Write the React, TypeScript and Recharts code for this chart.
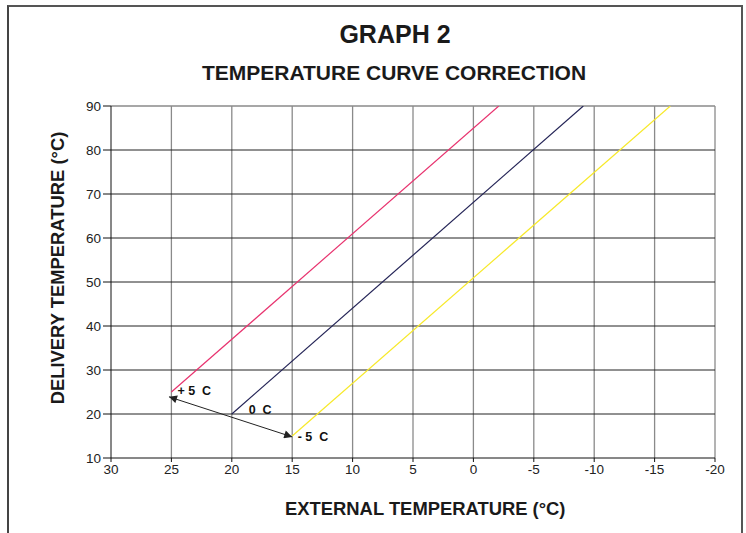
import React from 'react';
import { LineChart, Line, XAxis, YAxis, ReferenceLine, ReferenceDot } from 'recharts';

const xTicks = [30, 25, 20, 15, 10, 5, 0, -5, -10, -15, -20];
const yTicks = [10, 20, 30, 40, 50, 60, 70, 80, 90];

const plusFiveX = [25, -2.1];
const plusFiveY = [25, 90];
const zeroX = [20, -9.1];
const zeroY = [20, 90];
const minusFiveX = [15, -16.3];
const minusFiveY = [15, 90];

const arrowFrom = { x: 25.2, y: 23.9 };
const arrowTo = { x: 15.0, y: 14.8 };
const NB = '\u00a0';
const annotations = [
  { x: 24.5, y: 25.4, text: `+${NB}5${NB}${NB}C` },
  { x: 18.6, y: 20.9, text: `0${NB}${NB}C` },
  { x: 14.55, y: 14.8, text: `-${NB}5${NB}${NB}C` },
];

const toPoints = (xs: number[], ys: number[]) => xs.map((x, i) => ({ x, y: ys[i] }));

const series = [
  { name: '+5', data: toPoints(plusFiveX, plusFiveY), color: '#E8336F' },
  { name: '0', data: toPoints(zeroX, zeroY), color: '#232356' },
  { name: '-5', data: toPoints(minusFiveX, minusFiveY), color: '#F7E92A' },
];

const FONT = '"Liberation Sans", Arial, sans-serif';

export default function App() {
  return (
    <div style={{ position: 'absolute', left: 0, top: 0, width: 746, height: 533, background: '#fff', fontFamily: FONT, overflow: 'hidden' }}>
      <div style={{ position: 'absolute', left: 7, top: 5, width: 732, height: 540, borderTop: '2px solid #555', borderLeft: '2px solid #444', borderRight: '2px solid #555' }} />
      <div style={{ position: 'absolute', left: 0, width: 746, top: 20, textAlign: 'center', paddingLeft: 44, boxSizing: 'border-box', fontWeight: 'bold', fontSize: 25, color: '#1a1a1a' }}>GRAPH 2</div>
      <div style={{ position: 'absolute', left: 0, width: 746, top: 61, textAlign: 'center', paddingLeft: 42, boxSizing: 'border-box', fontWeight: 'bold', fontSize: 21, color: '#1a1a1a' }}>TEMPERATURE CURVE CORRECTION</div>
      <div style={{ position: 'absolute', left: 285, top: 498, fontWeight: 'bold', fontSize: 18.4, color: '#1a1a1a', whiteSpace: 'nowrap' }}>EXTERNAL TEMPERATURE (°C)</div>
      <div style={{ position: 'absolute', left: 58, top: 268, width: 0, height: 0 }}>
        <div style={{ position: 'absolute', transform: 'translate(-50%, -50%) rotate(-90deg)', fontWeight: 'bold', fontSize: 18.4, color: '#1a1a1a', whiteSpace: 'nowrap' }}>DELIVERY TEMPERATURE (°C)</div>
      </div>
      <div style={{ position: 'absolute', left: 0, top: 0 }}>
        <LineChart width={746} height={533} margin={{ top: 106, right: 31, bottom: 45, left: 71 }}>
          <defs>
            <marker id="arrowHead" viewBox="0 0 10 10" refX="10" refY="5" markerWidth="9" markerHeight="8" orient="auto-start-reverse" markerUnits="userSpaceOnUse">
              <path d="M0,0 L10,5 L0,10 z" fill="#222" />
            </marker>
          </defs>
          <XAxis
            type="number"
            dataKey="x"
            domain={[-20, 30]}
            reversed
            ticks={xTicks}
            interval={0}
            allowDataOverflow
            height={30}
            tickSize={4}
            stroke="#111"
            tick={{ fill: '#222', fontSize: 13.5, fontFamily: FONT }}
          />
          <YAxis
            type="number"
            dataKey="y"
            domain={[10, 90]}
            ticks={yTicks}
            interval={0}
            allowDataOverflow
            width={40}
            tickSize={8}
            stroke="#111"
            tick={{ fill: '#222', fontSize: 13.5, fontFamily: FONT }}
          />
          {xTicks.filter((t) => t !== 30).map((t) => (
            <ReferenceLine key={'vx' + t} x={t} stroke="#8a8a8a" strokeWidth={1.3} />
          ))}
          {yTicks.filter((t) => t !== 10).map((t) => (
            <ReferenceLine key={'hy' + t} y={t} stroke={t === 90 ? '#8a8a8a' : '#222'} strokeWidth={t === 90 ? 1.5 : 1} />
          ))}
          {series.map((s) => (
            <Line
              key={s.name}
              data={s.data}
              dataKey="y"
              type="linear"
              stroke={s.color}
              strokeWidth={1.2}
              dot={false}
              activeDot={false}
              isAnimationActive={false}
            />
          ))}
          <ReferenceLine
            segment={[arrowFrom, arrowTo]}
            stroke="#222"
            strokeWidth={1}
            markerStart="url(#arrowHead)"
            markerEnd="url(#arrowHead)"
          />
          {annotations.map((a) => (
            <ReferenceDot
              key={a.text}
              x={a.x}
              y={a.y}
              r={0}
              fill="none"
              stroke="none"
              label={{ value: a.text, position: 'right', offset: 0, fill: '#111', fontSize: 12.5, fontWeight: 'bold', fontFamily: FONT }}
            />
          ))}
        </LineChart>
      </div>
    </div>
  );
}
